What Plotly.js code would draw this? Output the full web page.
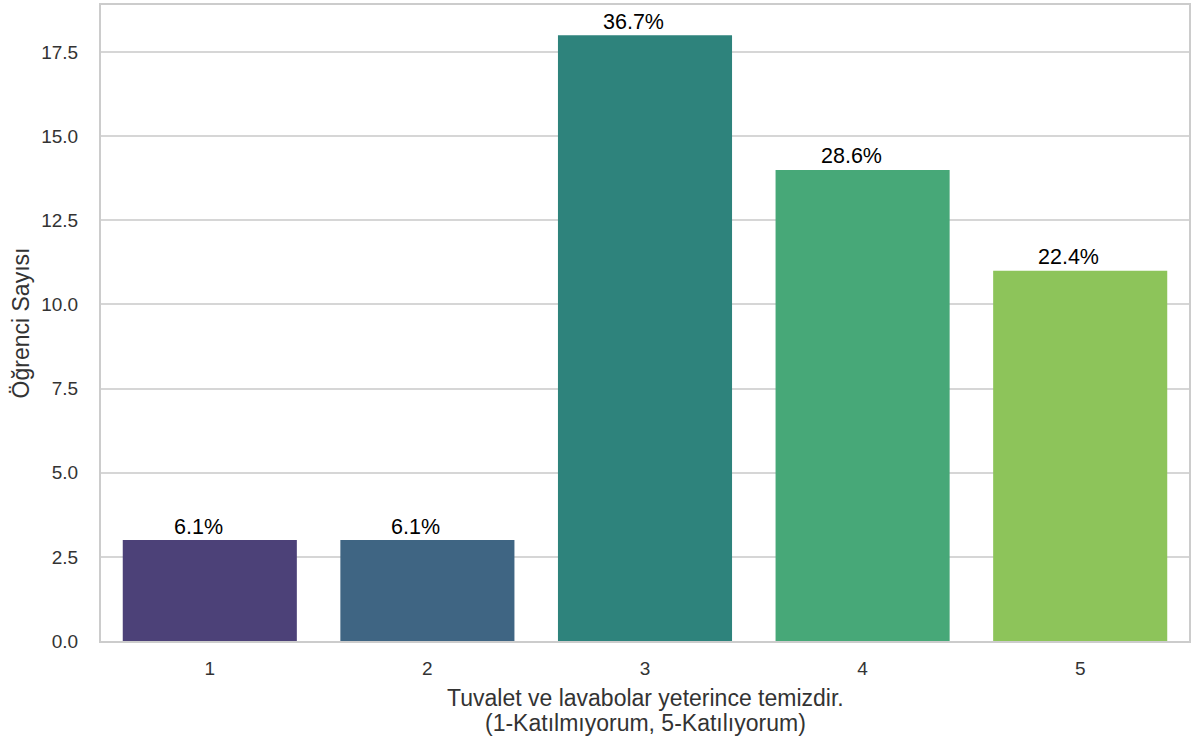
<!DOCTYPE html>
<html><head><meta charset="utf-8">
<script src="https://cdn.plot.ly/plotly-3.0.1.min.js"></script>
<style>body{margin:0;background:#fff}#c{width:1195px;height:738px}</style>
</head><body><div id="c"></div>
<script>
const categories = ["1","2","3","4","5"];
const counts = [3,3,18,14,11];
const labels = ["6.1%","6.1%","36.7%","28.6%","22.4%"];
const colors = ["#4c4178","#3f6583","#2e837c","#47a878","#8dc45a"];
const yTicks = [0,2.5,5,7.5,10,12.5,15,17.5];
const yTickText = ["0.0","2.5","5.0","7.5","10.0","12.5","15.0","17.5"];
const xTitleLines = ["Tuvalet ve lavabolar yeterince temizdir.","(1-Katılmıyorum, 5-Katılıyorum)"];
const yTitle = "Öğrenci Sayısı";

const FONT = 'Liberation Sans, Arial, sans-serif';
const xs = categories.map((c,i)=>i);

const annotations = labels.map((t,i)=>({
  x:xs[i], y:counts[i], xref:'x', yref:'y', text:t, showarrow:false,
  xanchor:'center', yanchor:'bottom', xshift:-11.5, yshift:-0.5,
  font:{family:FONT, size:21.5, color:'#000'}
}));
xTitleLines.forEach((t,k)=>annotations.push({
  x:0.5, y:0, xref:'paper', yref:'paper', text:t, showarrow:false,
  xanchor:'center', yanchor:'middle', yshift:-(57+25*k),
  font:{family:FONT, size:23, color:'#333'}
}));

Plotly.newPlot('c', [{
  type:'bar', x:xs, y:counts, width:0.8,
  marker:{color:colors, line:{width:0}},
  hoverinfo:'none'
}], {
  width:1195, height:738,
  margin:{l:101, r:6, t:5, b:97},
  paper_bgcolor:'#fff', plot_bgcolor:'#fff',
  font:{family:FONT, color:'#333'},
  showlegend:false,
  annotations:annotations,
  xaxis:{range:[-0.5,4.5], tickvals:xs, ticktext:categories,
    showgrid:false, zeroline:false, showline:true, mirror:true, linecolor:'#cccccc', linewidth:2,
    ticks:'outside', ticklen:9, tickcolor:'rgba(0,0,0,0)', tickfont:{size:19, color:'#333'}},
  yaxis:{range:[0,18.9], tickvals:yTicks, ticktext:yTickText,
    showgrid:true, gridcolor:'#d6d6d6', gridwidth:1.5, zeroline:false,
    showline:true, mirror:true, linecolor:'#cccccc', linewidth:2,
    ticks:'outside', ticklen:17, tickcolor:'rgba(0,0,0,0)', tickfont:{size:19, color:'#333'},
    title:{text:yTitle, font:{size:23, color:'#333'}, standoff:5}}
}, {displayModeBar:false});
</script></body></html>
